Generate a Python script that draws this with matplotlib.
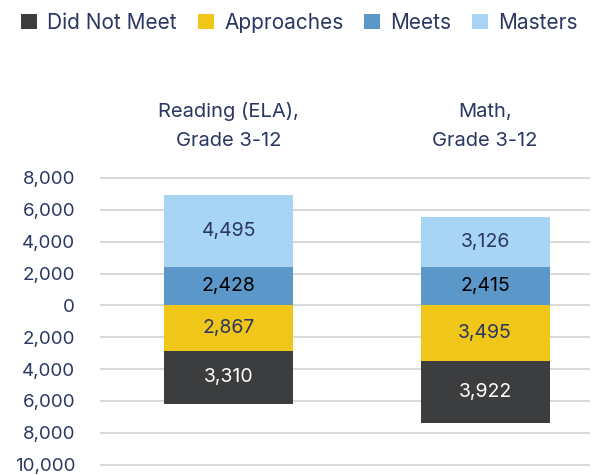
import matplotlib.pyplot as plt
from matplotlib.ticker import FuncFormatter

plt.rcParams['font.family'] = ['Inter', 'DejaVu Sans']

subjects = ['Reading (ELA),\nGrade 3-12', 'Math,\nGrade 3-12']
did_not_meet = [3310, 3922]
approaches = [2867, 3495]
meets = [2428, 2415]
masters = [4495, 3126]

navy = '#2B3762'
colors = {
    'Did Not Meet': '#3C3D3F',
    'Approaches': '#F0C619',
    'Meets': '#5B97C9',
    'Masters': '#A9D5F5',
}


def main():
    fig = plt.figure(figsize=(5.96, 4.75), dpi=100)
    ax = fig.add_axes([0.168, 0.0152, 0.822, 0.6168])

    x = range(len(subjects))
    w = 0.503
    neg_app = [-v for v in approaches]

    b_dnm = ax.bar(x, [-v for v in did_not_meet], w, bottom=neg_app,
                   color=colors['Did Not Meet'], label='Did Not Meet', zorder=3)
    b_app = ax.bar(x, neg_app, w, color=colors['Approaches'],
                   label='Approaches', zorder=3)
    b_meets = ax.bar(x, meets, w, color=colors['Meets'], label='Meets', zorder=3)
    b_mast = ax.bar(x, masters, w, bottom=meets, color=colors['Masters'],
                    label='Masters', zorder=3)

    fs = 14
    ax.bar_label(b_dnm, labels=[f'{v:,}' for v in did_not_meet],
                 label_type='center', color='white', fontsize=fs)
    ax.bar_label(b_app, labels=[f'{v:,}' for v in approaches],
                 label_type='center', color=navy, fontsize=fs)
    ax.bar_label(b_meets, labels=[f'{v:,}' for v in meets],
                 label_type='center', color='black', fontsize=fs)
    ax.bar_label(b_mast, labels=[f'{v:,}' for v in masters],
                 label_type='center', color=navy, fontsize=fs)

    ax.set_ylim(-10200, 8200)
    ax.set_xlim(-0.501, 1.409)
    ax.set_yticks(range(-10000, 8001, 2000))
    ax.yaxis.set_major_formatter(FuncFormatter(lambda v, p: f'{abs(int(v)):,}'))
    ax.grid(axis='y', color='#D9D9D9', linewidth=1.5, zorder=0)

    ax.xaxis.tick_top()
    ax.set_xticks(list(x))
    ax.set_xticklabels(subjects, linespacing=1.75)
    ax.tick_params(axis='x', length=0, pad=18, labelsize=14.5, labelcolor=navy)
    ax.tick_params(axis='y', length=0, pad=18, labelsize=13.5, labelcolor=navy)

    for s in ax.spines.values():
        s.set_visible(False)

    fig.legend(loc='upper left', bbox_to_anchor=(0.015, 1.0), ncol=4,
               frameon=False, fontsize=15, labelcolor=navy,
               handlelength=0.75, handleheight=0.75, handletextpad=0.5,
               columnspacing=1.0, borderaxespad=0.2)

    fig.savefig('out.png', dpi=100)


if __name__ == '__main__':
    main()
